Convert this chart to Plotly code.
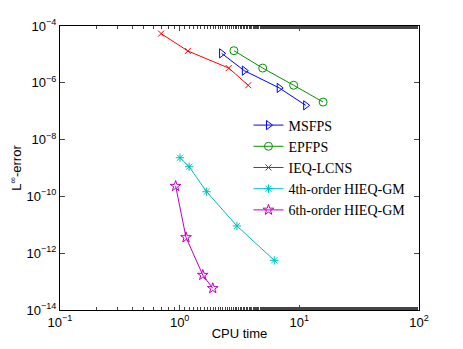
import plotly.graph_objects as go

# CPU time (s) and L-infinity error
msfps_t = [2.24, 3.47, 6.79, 11.3]
msfps_err = [1.09e-5, 2.67e-6, 6.6e-7, 1.61e-7]

epfps_t = [2.84, 4.94, 8.96, 15.8]
epfps_err = [1.35e-5, 3.3e-6, 8.2e-7, 2.1e-7]

ieq_t = [0.70, 1.17, 2.57, 3.74]
ieq_err = [5.4e-5, 1.32e-5, 3.3e-6, 8.2e-7]

hieq4_t = [1.006, 1.20, 1.68, 3.01, 6.17]
hieq4_err = [2.3e-9, 1.11e-9, 1.46e-10, 9.1e-12, 5.6e-13]

hieq6_t = [0.926, 1.13, 1.56, 1.89]
hieq6_err = [2.3e-10, 3.6e-12, 1.7e-13, 5.8e-14]

x_ticks = [0.1, 1, 10, 100]
x_ticktext = ["10<sup>−1</sup>", "10<sup>0</sup>", "10<sup>1</sup>", "10<sup>2</sup>"]
y_ticks = [1e-14, 1e-12, 1e-10, 1e-8, 1e-6, 1e-4]
y_ticktext = ["10<sup>−14</sup>", "10<sup>−12</sup>", "10<sup>−10</sup>",
              "10<sup>−8</sup>", "10<sup>−6</sup>", "10<sup>−4</sup>"]

series = [
    ("MSFPS", msfps_t, msfps_err, "rgb(0,0,255)", "triangle-right-open", 8),
    ("EPFPS", epfps_t, epfps_err, "rgb(0,150,0)", "circle-open", 8),
    ("IEQ-LCNS", ieq_t, ieq_err, "rgb(255,0,0)", "x-thin-open", 6),
    ("4th-order HIEQ-GM", hieq4_t, hieq4_err, "rgb(0,191,191)", "asterisk-open", 7),
    ("6th-order HIEQ-GM", hieq6_t, hieq6_err, "rgb(191,0,191)", "star-open", 8),
]

fig = go.Figure()
for name, t, err, color, symbol, size in series:
    fig.add_trace(go.Scatter(
        x=t, y=err, name=name, mode="lines+markers",
        line=dict(color=color, width=1),
        marker=dict(symbol=symbol, size=size, color=color,
                    line=dict(color=color, width=1)),
    ))

axis_common = dict(
    type="log", showline=True, linecolor="black", linewidth=1, mirror="ticks",
    ticks="inside", ticklen=5, tickcolor="#444", showgrid=False, zeroline=False,
    automargin=False,
    tickfont=dict(family="Liberation Sans, Arial", size=13, color="black"),
)

fig.update_xaxes(
    range=[-1, 2], tickvals=x_ticks, ticktext=x_ticktext,
    minor=dict(ticks="inside", ticklen=3, tickcolor="#444", showgrid=False),
    title=dict(text="CPU time", standoff=2,
               font=dict(family="Liberation Sans, Arial", size=13, color="black")),
    **axis_common,
)
fig.update_yaxes(
    range=[-14, -4], tickvals=y_ticks, ticktext=y_ticktext,
    title=dict(text="L<sup>∞</sup>-error", standoff=7,
               font=dict(family="Liberation Sans, Arial", size=13, color="black")),
    **axis_common,
)

# the page body adds an 8px margin, so the figure is sized to fit inside it
fig.update_layout(
    width=447, height=333,
    margin=dict(l=52, r=36, t=18, b=31),
    paper_bgcolor="white", plot_bgcolor="white",
    showlegend=True,
    legend=dict(
        x=0.525, y=0.706, xanchor="left", yanchor="top",
        bgcolor="rgba(0,0,0,0)", borderwidth=0,
        font=dict(family="Liberation Serif, DejaVu Serif", size=14, color="black"),
        itemwidth=30, tracegroupgap=0,
    ),
)

fig.write_html("out.html")
